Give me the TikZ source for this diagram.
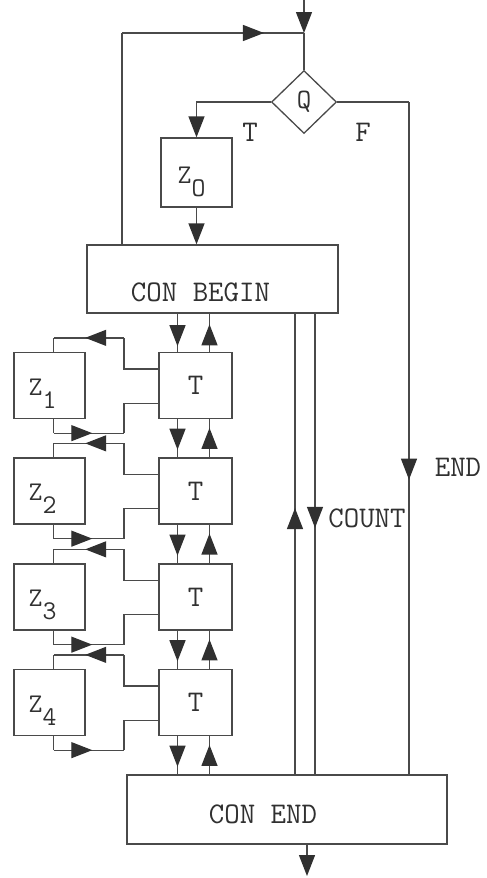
\documentclass[tikz,border=0pt]{standalone}
\usepackage{fontspec}
\usetikzlibrary{shapes.geometric,arrows.meta,decorations.markings}
\definecolor{lc}{HTML}{4A4A4A}
\definecolor{ac}{HTML}{303030}
\definecolor{tc}{HTML}{303030}
\tikzset{
  ftri/.tip={Triangle[length=21pt,width=16pt,color=ac]},
  ln/.style={draw=lc, line width=1.3pt},
  am/.style={postaction={decorate},decoration={markings,mark=at position #1 with {\arrow{ftri}}}},
  box/.style={draw=lc, line width=1.3pt, inner sep=0pt, text=tc},
  zbox/.style={box, minimum width=71pt, minimum height=66pt},
  tbox/.style={box, minimum width=73pt, minimum height=66pt, font=\fontsize{30}{30}\selectfont\ttfamily},
  txt/.style={text=tc, inner sep=0pt, font=\fontsize{30}{30}\selectfont\ttfamily},
  ztxt/.style={text=tc, inner sep=0pt, font=\fontsize{27}{27}\selectfont\ttfamily, xshift=-7pt, yshift=-8pt},
}
\begin{document}
\begin{tikzpicture}[x=1pt,y=-1pt]
\useasboundingbox (0,0) rectangle (487,878);
% nodes
\node[box, shape=diamond, minimum width=65pt, minimum height=63pt, font=\fontsize{28}{28}\selectfont\ttfamily] (Q) at (304,102) {Q};
\node[box, minimum width=71pt, minimum height=69pt, label={[ztxt,xshift=2pt,yshift=-1pt]center:Z\raisebox{-13pt}{O}}] (Z0) at (196.5,172.5) {};
\node[box, minimum width=251pt, minimum height=68pt, label={[txt,xshift=-12pt,yshift=-13pt]center:CON BEGIN}] (CB) at (212.5,279) {};
\node[box, minimum width=320pt, minimum height=69pt, label={[txt,xshift=-24pt,yshift=-5pt]center:CON END}] (CE) at (287,809.5) {};
\foreach \i/\yy in {1/385.5,2/491,3/597,4/702.5}{
  \node[zbox, label={[ztxt]center:Z\raisebox{-13pt}{\i}}] (Z\i) at (49.5,\yy) {};
  \node[tbox] (T\i) at (195.5,\yy) {T};
}
\node[txt] (lT) at (250,132) {T};
\node[txt] (lF) at (363,132) {F};
\node[txt] (lEND) at (458,467) {END};
\node[txt] (lCOUNT) at (367,518) {COUNT};
% coordinates
\coordinate (ti) at (304,0);
\coordinate (j) at (304,33);
\coordinate (fb) at (122,33);
\coordinate (fx) at (409,0);
\coordinate (xc) at (124,0);
\coordinate (dx) at (177.5,0);
\coordinate (ux) at (209.5,0);
\coordinate (cu) at (295,0);
\coordinate (cd) at (315,0);
\coordinate (out) at (307,876);
% top
\draw[ln,-ftri] (ti) -- (j);
\draw[ln] (j) -- (Q.north);
\draw[ln] (fb |- CB.north) -- (fb);
\draw[ln,am=0.78] (fb) -- (j);
% Q branches
\draw[ln,-ftri] (Q.west) -| (Z0.north);
\draw[ln] (Q.east) -- (Q.east -| fx);
\draw[ln,am=0.5617] (Q.east -| fx) -- (fx |- CE.north);
\draw[ln,-ftri] (Z0.south) -- (Z0.south |- CB.north);
% CB <-> T1
\draw[ln,am=0.85] (dx |- CB.south) -- (dx |- T1.north);
\draw[ln,am=0.72] (ux |- T1.north) -- (ux |- CB.south);
\foreach \i/\j in {1/2,2/3,3/4}{
  \draw[ln,am=0.8] (dx |- T\i.south) -- (dx |- T\j.north);
  \draw[ln,am=0.77] (ux |- T\j.north) -- (ux |- T\i.south);
}
\draw[ln,am=0.8] (dx |- T4.south) -- (dx |- CE.north);
\draw[ln,am=0.77] (ux |- CE.north) -- (ux |- T4.south);
% COUNT lines
\draw[ln,am=0.578] (cu |- CE.north) -- (cu |- CB.south);
\draw[ln,am=0.465] (cd |- CB.south) -- (cd |- CE.north);
% output
\draw[ln,-ftri] (CE.south -| out) -- (out);
% Z <-> T
\foreach \i in {1,...,4}{
  \coordinate (ua2\i) at ([xshift=4pt,yshift=14pt]Z\i.north);
  \coordinate (ua1\i) at (ua2\i -| xc);
  \draw[ln] ([yshift=-17pt]T\i.north west) -| (ua1\i);
  \draw[ln,am=0.55] (ua1\i) -- (ua2\i);
  \draw[ln] (ua2\i) -- ([xshift=4pt]Z\i.north);
  \coordinate (lb1\i) at ([xshift=4pt,yshift=-14pt]Z\i.south);
  \coordinate (lb2\i) at (lb1\i -| xc);
  \draw[ln] ([xshift=4pt]Z\i.south) -- (lb1\i);
  \draw[ln,am=0.55] (lb1\i) -- (lb2\i);
  \draw[ln] (lb2\i) |- ([yshift=16pt]T\i.south west);
}
\end{tikzpicture}
\end{document}
